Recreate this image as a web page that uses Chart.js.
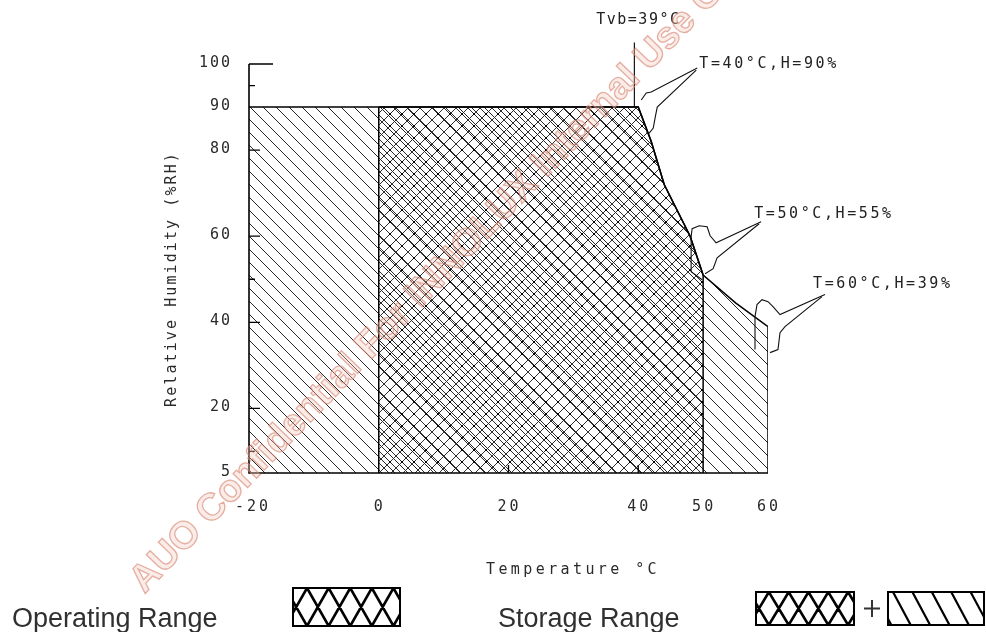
<!DOCTYPE html>
<html><head><meta charset="utf-8">
<script src="https://cdn.jsdelivr.net/npm/chart.js@4.4.1/dist/chart.umd.min.js"></script>
<style>html,body{margin:0;padding:0;background:#fff;overflow:hidden}</style>
</head><body>
<canvas id="c" width="986" height="632"></canvas>
<script>
// ---------- data ----------
const xTicks = [-20, 0, 20, 40, 50, 60];
const yTicks = [5, 20, 40, 60, 80, 90, 100];
const yMinorTicks = [95, 50, 10];
const xInnerTicks = [20, 40];
const boundaryT = [40, 42, 44, 48, 50, 55, 60];
const boundaryH = [90, 82, 72, 60, 51, 44.5, 39];
const storageStartT = -20, operatingStartT = 0, operatingEndT = 50, storageEndT = 60;
const topH = 90, baseH = 5;
const tvbT = 39.4, tvbTopH = 105;
const calloutT = [40, 50, 60];
const calloutH = [90, 55, 39];
const calloutLabels = ['T=40°C,H=90%', 'T=50°C,H=55%', 'T=60°C,H=39%'];
const tvbLabel = 'Tvb=39°C';
const xTitle = 'Temperature °C';
const yTitle = 'Relative Humidity (%RH)';
const legendLabels = ['Operating Range', 'Storage Range'];
const watermark = 'AUO Confidential For INNOLUX Internal Use Only';

// ---------- styling helpers ----------
const canvas = document.getElementById('c');
const ctx0 = canvas.getContext('2d');
function tile(s, draw) {
  const c = document.createElement('canvas'); c.width = s; c.height = s;
  const g = c.getContext('2d'); draw(g, s);
  return ctx0.createPattern(c, 'repeat');
}
// crisp pixel diagonals (like the original bitmap hatching)
const hatchPattern = tile(13, (g, s) => {
  g.fillStyle = '#262626';
  for (let i = 0; i < s; i++) g.fillRect(i, i, 1, 1);
});
const crossPattern = tile(12, (g, s) => {
  g.fillStyle = '#2e2e2e';
  for (let i = 0; i < s; i++) { g.fillRect(i, i, 1, 1); g.fillRect(s - 1 - i, i, 1, 1); }
  g.fillStyle = '#000'; g.fillRect(s / 2 - 1, s / 2 - 1, 2, 2);
});

const boundary = boundaryT.map((t, i) => ({ x: t, y: boundaryH[i] }));
const storagePts = [{ x: storageStartT, y: topH }, ...boundary];
const operatingPts = [{ x: operatingStartT, y: topH }, ...boundary.filter(p => p.x <= operatingEndT)];
const hAt = t => boundaryH[boundaryT.indexOf(t)];
const lineDs = (data, extra) => Object.assign({ data, borderColor: '#000', borderWidth: 1.5, pointRadius: 0, fill: false, tension: 0 }, extra || {});

// callout cloud shapes (pixel offsets from the target point)
const cloudA = [
  [[3,-7],[8,-14],[13,-15],[59,-39]],
  [[-1,22],[-12,14],[-12,-21],[-11,-29],[-4,-32],[4,-31],[7,-22],[13,-15],[58,-36]],
  [[-13,23],[-13,-10],[-11,-22],[-6,-27],[0,-25],[5,-20],[12,-12],[57,-32]]
];
const cloudB = [
  [[58,-37],[19,0],[17,10],[15,21],[11,26],[8,25]],
  [[56,-34],[14,0],[10,11],[2,16]],
  [[54,-30],[17,0],[12,6],[10,23],[2,26]]
];
const labelOffset = [[61,-43],[51,-44],[45,-43]];

function drawText(ctx, s, px, py, o) {
  ctx.save();
  ctx.font = o.font; ctx.fillStyle = o.color || '#222';
  ctx.textAlign = o.align || 'center'; ctx.textBaseline = o.base || 'middle';
  try { ctx.letterSpacing = o.spacing || '0px'; } catch (e) {}
  ctx.translate(px, py); if (o.rot) ctx.rotate(o.rot);
  ctx.fillText(s, 0, 0);
  ctx.restore();
}
const MONO = '15px "DejaVu Sans Mono", monospace';

const deco = {
  id: 'deco',
  afterDatasetsDraw(chart) {
    const { ctx, scales: { x, y } } = chart;
    const X = v => x.getPixelForValue(v), Y = v => y.getPixelForValue(v);
    ctx.save();
    ctx.strokeStyle = '#000'; ctx.lineWidth = 1.6;
    ctx.beginPath();
    ctx.moveTo(X(storageStartT), Y(100)); ctx.lineTo(X(storageStartT), Y(baseH)); ctx.lineTo(X(storageEndT), Y(baseH));
    ctx.stroke();
    ctx.lineWidth = 1.3; ctx.beginPath();
    [100, 80, 60, 40, 20].forEach(v => { ctx.moveTo(X(-20), Y(v)); ctx.lineTo(X(-20) + (v === 100 ? 24 : 11), Y(v)); });
    yMinorTicks.forEach(v => { ctx.moveTo(X(-20), Y(v)); ctx.lineTo(X(-20) + 6, Y(v)); });
    xInnerTicks.forEach(v => { ctx.moveTo(X(v), Y(baseH)); ctx.lineTo(X(v), Y(baseH) - 8); });
    ctx.stroke();
    ctx.restore();

    yTicks.forEach(v => drawText(ctx, String(v), X(-20) - 17, Y(v) - 1, { font: MONO, align: 'right', spacing: '2px', color: '#2a2a2a' }));
    xTicks.forEach(v => drawText(ctx, String(v), X(v) + (v < 0 ? 4 : 1), Y(baseH) + 34, { font: MONO, spacing: '3px', color: '#2a2a2a' }));
    drawText(ctx, xTitle, 573, 570, { font: MONO, spacing: '3.4px', color: '#2a2a2a' });
    drawText(ctx, yTitle, 172, 279, { font: MONO, spacing: '2.1px', color: '#2a2a2a', rot: -Math.PI / 2 });

    drawText(ctx, tvbLabel, X(tvbT) + 4, Y(tvbTopH) - 22, { font: MONO, spacing: '1.5px', color: '#222' });

    ctx.save(); ctx.strokeStyle = '#111'; ctx.lineWidth = 1.1;
    calloutT.forEach((t, i) => {
      const px = X(t), py = Y(calloutH[i]);
      [cloudA[i], cloudB[i]].forEach(path => {
        ctx.beginPath();
        path.forEach(([dx, dy], k) => k ? ctx.lineTo(px + dx, py + dy) : ctx.moveTo(px + dx, py + dy));
        ctx.stroke();
      });
      drawText(ctx, calloutLabels[i], px + labelOffset[i][0], py + labelOffset[i][1], { font: MONO, align: 'left', spacing: '2.6px', color: '#222' });
    });
    ctx.restore();

    const LF = '27px "Liberation Sans", Arial, sans-serif';
    drawText(ctx, legendLabels[0], 12, 627, { font: LF, align: 'left', base: 'alphabetic', color: '#303030' });
    drawText(ctx, legendLabels[1], 498, 627, { font: LF, align: 'left', base: 'alphabetic', color: '#303030' });
    function crossBox(x0, y0, w, h, p) {
      ctx.save(); ctx.beginPath(); ctx.rect(x0, y0, w, h); ctx.clip();
      ctx.strokeStyle = '#000'; ctx.lineWidth = 2.6; ctx.beginPath();
      for (let k = -3; k < 10; k++) {
        const cx = x0 + p * 0.65 + k * p;
        ctx.moveTo(cx, y0); ctx.lineTo(cx + p, y0 + h);
        ctx.moveTo(cx, y0); ctx.lineTo(cx - p, y0 + h);
      }
      ctx.stroke(); ctx.restore();
      ctx.save(); ctx.lineWidth = 2; ctx.strokeStyle = '#000'; ctx.strokeRect(x0, y0, w, h); ctx.restore();
    }
    function hatchBox(x0, y0, w, h, p) {
      ctx.save(); ctx.beginPath(); ctx.rect(x0, y0, w, h); ctx.clip();
      ctx.strokeStyle = '#000'; ctx.lineWidth = 2.2; ctx.beginPath();
      const dx = h * 15 / 28;
      for (let k = -3; k < 8; k++) { const sx = x0 + 5 + k * p; ctx.moveTo(sx, y0); ctx.lineTo(sx + dx, y0 + h); }
      ctx.stroke(); ctx.restore();
      ctx.save(); ctx.lineWidth = 2; ctx.strokeStyle = '#000'; ctx.strokeRect(x0, y0, w, h); ctx.restore();
    }
    crossBox(293, 588, 107, 38, 21.6);
    crossBox(756, 592, 98, 33, 19.8);
    ctx.save(); ctx.strokeStyle = '#333'; ctx.lineWidth = 2; ctx.beginPath();
    ctx.moveTo(864, 608.5); ctx.lineTo(880, 608.5); ctx.moveTo(872, 600); ctx.lineTo(872, 617); ctx.stroke(); ctx.restore();
    hatchBox(888, 592, 96, 33, 19.4);

    ctx.save();
    ctx.translate(137, 587); ctx.rotate(-46 * Math.PI / 180);
    ctx.font = 'bold 38px "Liberation Sans", Arial, sans-serif';
    ctx.textAlign = 'left'; ctx.textBaseline = 'middle';
    ctx.fillStyle = 'rgba(240,200,190,0.35)'; ctx.fillText(watermark, 0, 0);
    ctx.strokeStyle = 'rgba(215,130,110,0.62)'; ctx.lineWidth = 1.3; ctx.strokeText(watermark, 0, 0);
    ctx.restore();
  }
};

new Chart(canvas, {
  type: 'line',
  data: {
    datasets: [
      lineDs([{ x: operatingStartT, y: baseH }, { x: operatingStartT, y: topH }], { order: 0 }),
      lineDs([{ x: operatingEndT, y: baseH }, { x: operatingEndT, y: hAt(operatingEndT) }], { order: 0 }),
      lineDs([{ x: storageEndT, y: baseH }, { x: storageEndT, y: hAt(storageEndT) }], { order: 0 }),
      lineDs([{ x: tvbT, y: topH }, { x: tvbT, y: tvbTopH }], { order: 0, clip: false, borderWidth: 1.1 }),
      lineDs(operatingPts, { fill: { value: baseH }, backgroundColor: crossPattern, order: 1 }),
      lineDs(storagePts, { fill: { value: baseH }, backgroundColor: hatchPattern, order: 2 })
    ]
  },
  options: {
    responsive: false, animation: false, devicePixelRatio: 1,
    layout: { padding: { left: 249, right: 218, top: 64, bottom: 159 } },
    scales: {
      x: { type: 'linear', min: -20, max: 60, display: false },
      y: { type: 'linear', min: 5, max: 100, display: false }
    },
    plugins: { legend: { display: false }, tooltip: { enabled: false } }
  },
  plugins: [deco]
});
</script>
</body></html>
